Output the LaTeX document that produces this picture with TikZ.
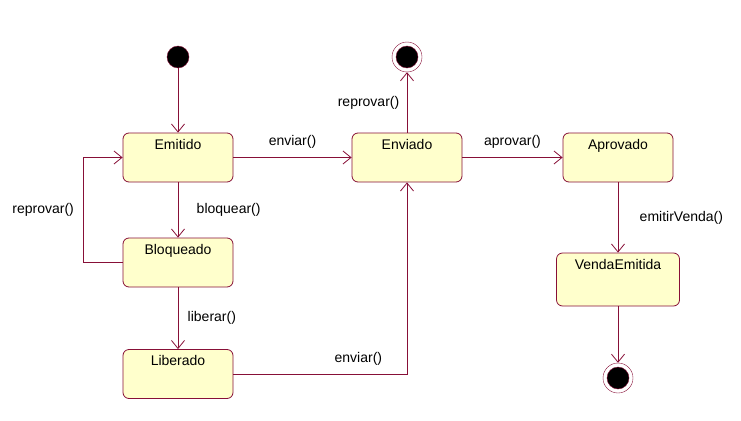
\documentclass[tikz,border=0pt]{standalone}
\usepackage{fontspec}
\setmainfont{Liberation Sans}
\usetikzlibrary{arrows.meta}
\definecolor{roseline}{RGB}{135,15,55}
\definecolor{rosefill}{RGB}{255,255,204}

\begin{document}
\begin{tikzpicture}[x=1pt,y=-1pt,
	  font=\fontsize{14}{16}\selectfont,
	  state/.style={draw=roseline,fill=rosefill,line width=0.8pt,rounded corners=6pt,minimum width=110pt,minimum height=49pt},
	  trans/.style={draw=roseline,line width=0.8pt,-{Straight Barb[length=8pt,width=13pt]}},
	  init/.style={circle,draw=roseline,fill=black,minimum size=22pt,inner sep=0pt},
	  final/.style={circle,draw=roseline,fill=white,minimum size=30pt,inner sep=0pt,
	    path picture={\fill[black,draw=roseline] (path picture bounding box.center) circle (11pt);}}]
	  \useasboundingbox (0,0) rectangle (741,420);
	  \node[init] (inicio) at (178,57) {};
	  \node[final] (fim1) at (407,57) {};
	  \node[final] (fim2) at (618,378) {};
	  \node[state,label={[anchor=north,yshift=-3pt]north:Emitido}] (emitido) at (178,157.5) {};
	  \node[state,label={[anchor=north,yshift=-3pt]north:Enviado}] (enviado) at (407,157.5) {};
	  \node[state,label={[anchor=north,yshift=-3pt]north:Aprovado}] (aprovado) at (618,157.5) {};
	  \node[state,label={[anchor=north,yshift=-3pt]north:Bloqueado}] (bloqueado) at (178,262.5) {};
	  \node[state,label={[anchor=north,yshift=-3pt]north:Liberado}] (liberado) at (178,374) {};
	  \node[state,minimum width=123pt,minimum height=53pt,label={[anchor=north,yshift=-3pt]north:VendaEmitida}] (vendaemitida) at (618,279.5) {};
	  \draw[trans] (inicio) -- (emitido);
	  \draw[trans] (emitido) -- node[above=5pt] {enviar()} (enviado);
	  \draw[trans] (emitido) -- node[right=15pt] {bloquear()} (bloqueado);
	  \draw[trans] (bloqueado.west) -- ++(-39,0) |- node[pos=0.25,left=6pt] {reprovar()} (emitido.west);
	  \draw[trans] (bloqueado) -- node[right=6pt] {liberar()} (liberado);
	  \draw[trans] (liberado.east) -| node[pos=0.36,above=5pt] {enviar()} (enviado.south);
	  \draw[trans] (enviado) -- node[left=4pt] {reprovar()} (fim1);
	  \draw[trans] (enviado) -- node[above=5pt] {aprovar()} (aprovado);
	  \draw[trans] (aprovado) -- node[right=18pt] {emitirVenda()} (vendaemitida);
	  \draw[trans] (vendaemitida) -- (fim2);
	\end{tikzpicture}
\end{document}
